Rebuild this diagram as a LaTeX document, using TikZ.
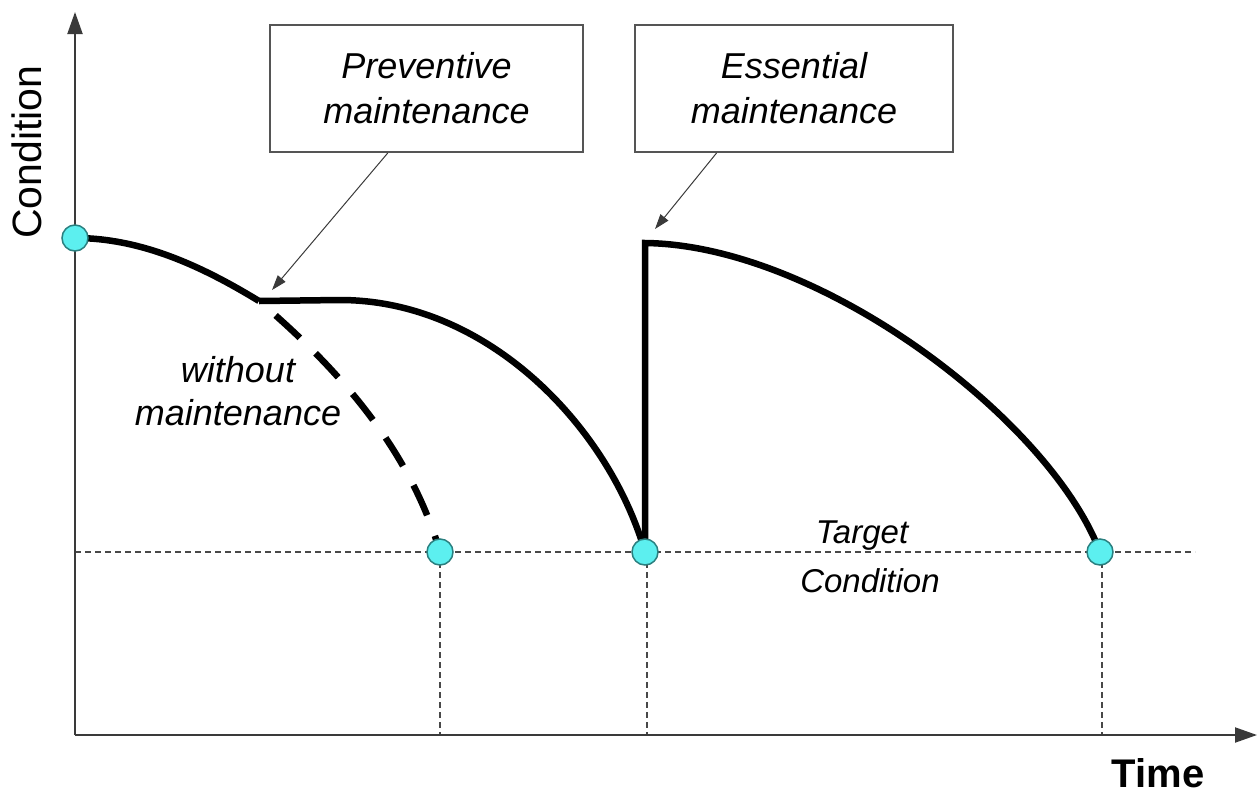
\documentclass[tikz,border=0pt]{standalone}
\usepackage{fontspec}
\setmainfont{Liberation Sans}
\usetikzlibrary{arrows.meta,calc}
\definecolor{dotfill}{HTML}{5CEFEF}
\definecolor{dotedge}{HTML}{2A7F7F}
\definecolor{axisgray}{HTML}{3A3A3A}
\definecolor{guidegray}{HTML}{484848}
\definecolor{boxgray}{HTML}{555555}
\begin{document}
\begin{tikzpicture}[x=1pt,y=-1pt,
  axisline/.style={draw=axisgray,line width=2pt,-{Triangle[length=22pt,width=15pt]}},
  guide/.style={draw=guidegray,line width=1.5pt,dash pattern=on 6pt off 4pt},
  curveline/.style={draw=black,line width=6.5pt,line join=miter},
  dashcurve/.style={draw=black,line width=6.5pt,dash pattern=on 33pt off 22pt,dash phase=33pt},
  annot/.style={draw=axisgray,line width=1pt,-{Triangle[length=15pt,width=10pt]}},
  dot/.style={circle,minimum size=26pt,inner sep=0pt,fill=dotfill,draw=dotedge,line width=1.5pt},
  infobox/.style={draw=boxgray,line width=2pt,fill=white,minimum height=127pt,inner sep=0pt,
    align=center,font=\fontsize{36}{45}\selectfont\itshape},
  lbl/.style={inner sep=0pt,align=center,font=\fontsize{36}{43}\selectfont\itshape},
  tlbl/.style={inner sep=0pt,anchor=base,font=\fontsize{33}{40}\selectfont\itshape}
]
\useasboundingbox (0,0) rectangle (1258,796);

% axes
\coordinate (O) at (75,735);
\coordinate (ytop) at (75,12);
\coordinate (xend) at (1257,735);

% dots (positions)
\coordinate (p0) at (75,238);
\coordinate (p1) at (440,552);
\coordinate (p2) at (645,552);
\coordinate (p3) at (1100,552);
\coordinate (k) at (259,301);
\coordinate (top) at (645,243);

% guides
\coordinate (gl) at (75,552);
\coordinate (gr) at (1195,552);
\draw[guide] (gl) -- (gr);
\draw[guide] (p1) -- (p1 |- O);
\draw[guide] ($(p2)+(2,0)$) -- ($(p2 |- O)+(2,0)$);
\draw[guide] ($(p3)+(2,0)$) -- ($(p3 |- O)+(2,0)$);

\draw[axisline] (O) -- (ytop);
\draw[axisline] (O) -- (xend);

% curves
\draw[curveline] (p0) .. controls (140,238) and (200,265) .. (k);
\draw[curveline] (k) -- (340,300) .. controls (490,300) and (610,430) .. (p2);
\draw[dashcurve] (k) .. controls (340,370) and (410,450) .. (p1);
\draw[curveline] (p2) -- (top) .. controls (820,245) and (1050,420) .. (p3);

% dots
\node[dot] (c0) at (p0) {};
\node[dot] (c1) at (p1) {};
\node[dot] (c2) at (p2) {};
\node[dot] (c3) at (p3) {};

% boxes
\node[infobox,minimum width=313pt] (pbox) at (426.5,88.5) {Preventive\\maintenance};
\node[infobox,minimum width=318pt] (ebox) at (794,88.5) {Essential\\maintenance};

\coordinate (pa) at (272,290);
\coordinate (ea) at (655,229);
\draw[annot] ($(pbox.south west)!0.377!(pbox.south east)$) -- (pa);
\draw[annot] ($(ebox.south west)!0.258!(ebox.south east)$) -- (ea);

% labels
\node[lbl] (wo) at (238,391) {without\\maintenance};
\node[tlbl] (tg) at (862,543) {Target};
\node[tlbl] (tc) at (870,592) {Condition};
\node[inner sep=0pt,rotate=90,font=\fontsize{41}{48}\selectfont] (ylab) at (27,152) {Condition};
\node[inner sep=0pt,font=\fontsize{40}{48}\selectfont\bfseries] (xlab) at (1158,773) {Time};
\end{tikzpicture}
\end{document}
